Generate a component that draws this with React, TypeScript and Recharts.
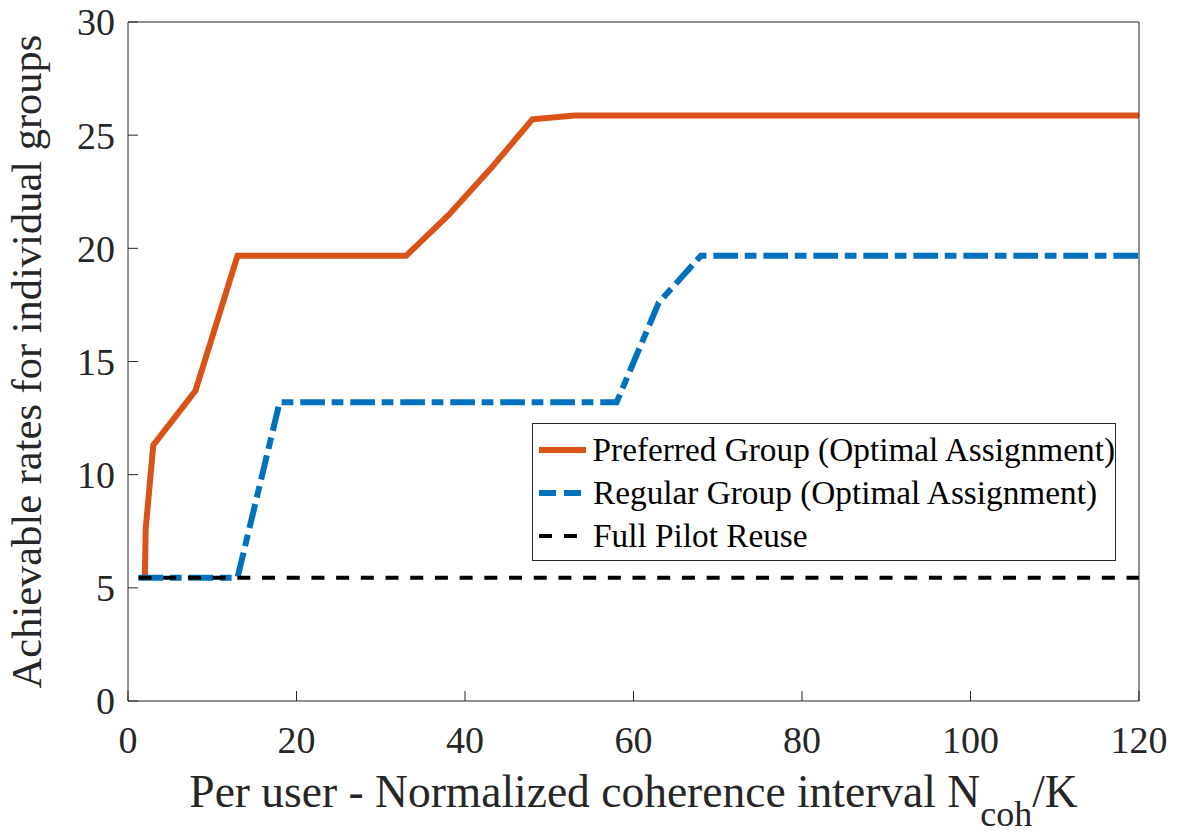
import { Line, LineChart, XAxis, YAxis } from "recharts";

// Per-user normalized coherence interval (x) vs achievable rate (y)
const preferredX = [2, 2.1, 3, 8, 13, 33, 38, 43, 48, 53, 120];
const preferredY = [5.45, 7.6, 11.3, 13.7, 19.67, 19.67, 21.45, 23.5, 25.7, 25.87, 25.87];

const regularX = [1.25, 13, 18, 58, 63, 68, 120];
const regularY = [5.45, 5.45, 13.2, 13.2, 17.6, 19.67, 19.67];

const reuseX = [1.25, 120];
const reuseY = [5.45, 5.45];

const xTicks = [0, 20, 40, 60, 80, 100, 120];
const yTicks = [0, 5, 10, 15, 20, 25, 30];

const SERIF = "Liberation Serif";
const AXIS = "#262626";
const ORANGE = "#D95319";
const BLUE = "#0072BD";

const BLUE_DASH = "24.7 6.7 11.7 6.9";
const BLACK_DASH = "13 11.7";

const zip = (xs: number[], ys: number[]) => xs.map((x, i) => ({ x, y: ys[i] }));

const preferred = zip(preferredX, preferredY);
const regular = zip(regularX, regularY);
const reuse = zip(reuseX, reuseY);

const legendItems = [
  { name: "Preferred Group (Optimal Assignment)", color: ORANGE, width: 6, dash: undefined as string | undefined },
  { name: "Regular Group (Optimal Assignment)", color: BLUE, width: 6, dash: "17 8" },
  { name: "Full Pilot Reuse", color: "#000", width: 4, dash: "13 12" },
];

function XLabel({ viewBox }: any) {
  const cx = viewBox.x + viewBox.width / 2;
  return (
    <text x={cx} y={viewBox.y + 106} textAnchor="middle" style={{ fontFamily: SERIF }} fontSize={45.5} fill={AXIS}>
      Per user - Normalized coherence interval N
      <tspan fontSize={36} dy={19}>coh</tspan>
      <tspan dy={-19}>/K</tspan>
    </text>
  );
}

function YLabel({ viewBox }: any) {
  const x = viewBox.x + 13;
  const y = viewBox.y + viewBox.height / 2;
  return (
    <text x={x} y={y} transform={`rotate(-90 ${x} ${y})`} textAnchor="middle" style={{ fontFamily: SERIF }} fontSize={42.5} fill={AXIS}>
      Achievable rates for individual groups
    </text>
  );
}

function Legend() {
  return (
    <div
      style={{
        position: "absolute",
        left: 532,
        top: 423,
        width: 582,
        height: 132,
        border: `1px solid ${AXIS}`,
        background: "#fff",
        paddingTop: 4,
        boxSizing: "content-box",
      }}
    >
      {legendItems.map((it) => (
        <div key={it.name} style={{ display: "flex", alignItems: "center", height: 43 }}>
          <svg width={50} height={10} style={{ marginLeft: 4, marginRight: 6 }}>
            <line x1={2} x2={49} y1={5} y2={5} stroke={it.color} strokeWidth={it.width} strokeDasharray={it.dash} />
          </svg>
          <span style={{ fontFamily: SERIF, fontSize: 33.3, color: "#000", whiteSpace: "nowrap" }}>{it.name}</span>
        </div>
      ))}
    </div>
  );
}

export default function App() {
  return (
    <div style={{ position: "absolute", left: 0, top: 0, width: 1179, height: 837, background: "#fff", fontFamily: SERIF }}>
      <LineChart width={1179} height={837} margin={{ top: 21, right: 39, bottom: 6, left: 28 }}>
        <XAxis
          dataKey="x"
          type="number"
          domain={[0, 120]}
          ticks={xTicks}
          height={130}
          stroke={AXIS}
          tickSize={-10}
          tickMargin={35}
          tick={{ fontFamily: SERIF, fontSize: 38, fill: AXIS }}
          label={<XLabel />}
        />
        <XAxis
          xAxisId="top"
          orientation="top"
          type="number"
          domain={[0, 120]}
          ticks={xTicks}
          height={1}
          stroke={AXIS}
          tickSize={-10}
          tick={false}
        />
        <YAxis
          type="number"
          domain={[0, 30]}
          ticks={yTicks}
          width={100}
          stroke={AXIS}
          tickSize={-10}
          tickMargin={23}
          tick={{ fontFamily: SERIF, fontSize: 38, fill: AXIS }}
          label={<YLabel />}
        />
        <YAxis
          yAxisId="right"
          orientation="right"
          type="number"
          domain={[0, 30]}
          ticks={yTicks}
          width={1}
          stroke={AXIS}
          tickSize={-10}
          tick={false}
        />
        <Line data={preferred} dataKey="y" stroke={ORANGE} strokeWidth={6} dot={false} isAnimationActive={false} />
        <Line
          data={regular}
          dataKey="y"
          stroke={BLUE}
          strokeWidth={6}
          strokeDasharray={BLUE_DASH}
          dot={false}
          isAnimationActive={false}
        />
        <Line
          data={reuse}
          dataKey="y"
          stroke="#000"
          strokeWidth={4}
          strokeDasharray={BLACK_DASH}
          dot={false}
          isAnimationActive={false}
        />
      </LineChart>
      <Legend />
    </div>
  );
}
